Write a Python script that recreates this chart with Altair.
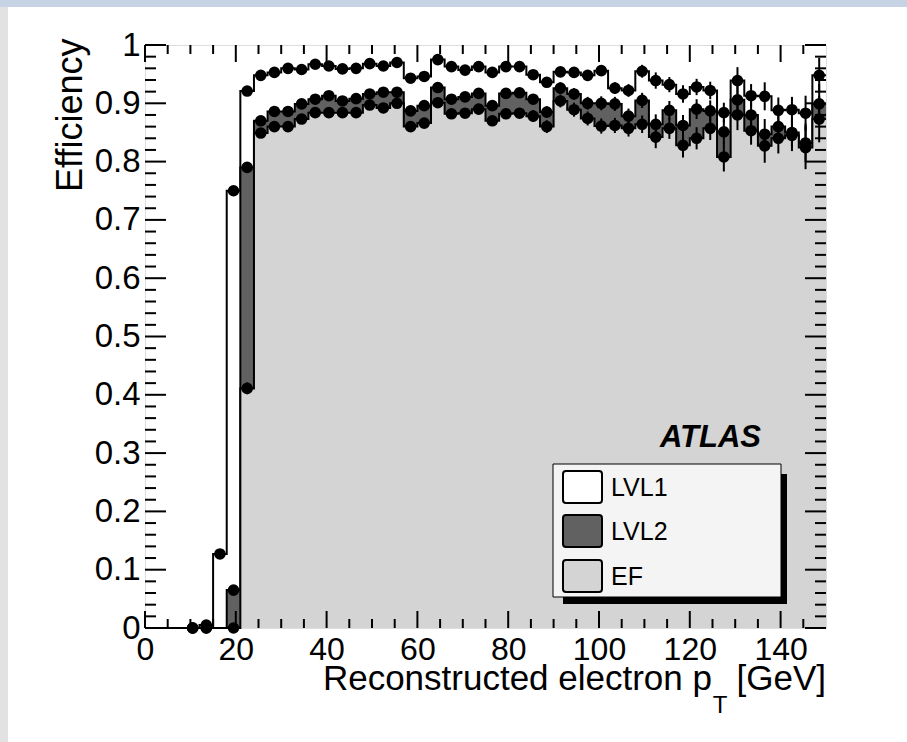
import altair as alt
import pandas as pd

# ---------------- data ----------------
edges = [0, 3, 6, 9, 12, 15, 18, 21, 24, 27, 30, 33, 36, 39, 42, 45, 48, 51, 54, 57,
         60, 63, 66, 69, 72, 75, 78, 81, 84, 87, 90, 93, 96, 99, 102, 105, 108, 111,
         114, 117, 120, 123, 126, 129, 132, 135, 138, 141, 144, 147, 150]
centers = [1.5, 4.5, 7.5, 10.5, 13.5, 16.5, 19.5, 22.5, 25.5, 28.5, 31.5, 34.5, 37.5,
           40.5, 43.5, 46.5, 49.5, 52.5, 55.5, 58.5, 61.5, 64.5, 67.5, 70.5, 73.5, 76.5,
           79.5, 82.5, 85.5, 88.5, 91.5, 94.5, 97.5, 100.5, 103.5, 106.5, 109.5, 112.5,
           115.5, 118.5, 121.5, 124.5, 127.5, 130.5, 133.5, 136.5, 139.5, 142.5, 145.5, 148.5]

lvl1 = [None, None, None, 0.0, 0.005, 0.127, 0.750, 0.921, 0.948, 0.953, 0.960, 0.958,
        0.967, 0.964, 0.959, 0.960, 0.968, 0.964, 0.970, 0.943, 0.946, 0.975, 0.963,
        0.957, 0.963, 0.953, 0.963, 0.963, 0.949, 0.936, 0.954, 0.953, 0.948, 0.956,
        0.926, 0.922, 0.955, 0.939, 0.932, 0.916, 0.928, 0.922, 0.884, 0.939, 0.913,
        0.912, 0.888, 0.889, 0.883, 0.948]
lvl2 = [None, None, None, 0.0, 0.0, None, 0.065, 0.790, 0.870, 0.886, 0.886, 0.899,
        0.907, 0.913, 0.904, 0.908, 0.916, 0.919, 0.919, 0.887, 0.896, 0.927, 0.907,
        0.911, 0.917, 0.896, 0.917, 0.918, 0.907, 0.885, 0.926, 0.916, 0.900, 0.900,
        0.899, 0.878, 0.905, 0.864, 0.888, 0.862, 0.890, 0.887, 0.851, 0.906, 0.880,
        0.847, 0.860, 0.850, 0.832, 0.899]
ef = [None, None, None, 0.0, 0.0, None, 0.0, 0.411, 0.849, 0.860, 0.860, 0.873,
      0.884, 0.884, 0.884, 0.884, 0.897, 0.892, 0.900, 0.860, 0.866, 0.901, 0.882,
      0.883, 0.890, 0.870, 0.882, 0.883, 0.878, 0.860, 0.904, 0.889, 0.874, 0.861,
      0.862, 0.857, 0.864, 0.842, 0.857, 0.828, 0.840, 0.857, 0.808, 0.880, 0.853,
      0.827, 0.840, 0.845, 0.824, 0.873]

err1 = [0, 0, 0, 0.002, 0.004, 0.008, 0.008, 0.006, 0.004, 0.004, 0.004, 0.004,
        0.004, 0.004, 0.004, 0.004, 0.004, 0.004, 0.004, 0.005, 0.005, 0.005, 0.005,
        0.005, 0.006, 0.006, 0.006, 0.006, 0.007, 0.007, 0.008, 0.008, 0.009, 0.009,
        0.010, 0.011, 0.011, 0.014, 0.013, 0.015, 0.014, 0.015, 0.017, 0.023, 0.020,
        0.024, 0.022, 0.022, 0.030, 0.030]
err2 = [0, 0, 0, 0.002, 0.002, 0, 0.008, 0.009, 0.005, 0.005, 0.005, 0.005,
        0.005, 0.005, 0.005, 0.005, 0.005, 0.005, 0.005, 0.007, 0.007, 0.007, 0.007,
        0.007, 0.008, 0.008, 0.008, 0.008, 0.009, 0.010, 0.010, 0.010, 0.011, 0.012,
        0.012, 0.013, 0.013, 0.017, 0.016, 0.018, 0.017, 0.018, 0.021, 0.024, 0.022,
        0.026, 0.024, 0.025, 0.033, 0.034]
err3 = [0, 0, 0, 0.002, 0.002, 0, 0.002, 0.010, 0.005, 0.005, 0.005, 0.005,
        0.005, 0.005, 0.005, 0.005, 0.005, 0.005, 0.005, 0.008, 0.008, 0.008, 0.008,
        0.008, 0.009, 0.009, 0.009, 0.009, 0.010, 0.011, 0.011, 0.012, 0.012, 0.013,
        0.013, 0.014, 0.015, 0.019, 0.018, 0.021, 0.019, 0.020, 0.025, 0.026, 0.024,
        0.029, 0.026, 0.027, 0.037, 0.040]

series_names = ["LVL1", "LVL2", "EF"]
series_fill = ["#ffffff", "#616161", "#d4d4d4"]

x_labels = [0, 20, 40, 60, 80, 100, 120, 140]
x_minor = [5, 10, 15, 25, 30, 35, 45, 50, 55, 65, 70, 75, 85, 90, 95, 105, 110, 115,
           125, 130, 135, 145]
y_labels = [0, 0.1, 0.2, 0.3, 0.4, 0.5, 0.6, 0.7, 0.8, 0.9, 1.0]
y_minor = [0.02, 0.04, 0.06, 0.08, 0.12, 0.14, 0.16, 0.18, 0.22, 0.24, 0.26, 0.28,
           0.32, 0.34, 0.36, 0.38, 0.42, 0.44, 0.46, 0.48, 0.52, 0.54, 0.56, 0.58,
           0.62, 0.64, 0.66, 0.68, 0.72, 0.74, 0.76, 0.78, 0.82, 0.84, 0.86, 0.88,
           0.92, 0.94, 0.96, 0.98]

# ---------------- layout ----------------
W, H = 681, 583
FONT = "Liberation Sans"

xsc = alt.Scale(domain=[0, 150], nice=False, zero=False)
ysc = alt.Scale(domain=[0, 1], nice=False, zero=False)
xaxis = alt.Axis(values=x_labels, title=None, ticks=False, domain=False, grid=False,
                 labelFontSize=32, labelPadding=6, labelColor="black", labelFont=FONT,
                 labelFlush=False, labelOverlap=False, labelBound=False, format="d")
yaxis = alt.Axis(values=y_labels, title="Efficiency", ticks=False, domain=False,
                 grid=False, labelFontSize=33, labelPadding=5, labelColor="black",
                 labelFont=FONT, labelFlush=False, labelOverlap=False, labelBound=False,
                 format="~g", titleFont=FONT, titleFontSize=36, titleFontWeight="normal",
                 titleColor="black", titleAngle=270, titleX=-64, titleY=-7,
                 titleAlign="right", titleBaseline="alphabetic")


def X(field):
    return alt.X(field, type="quantitative", scale=xsc, axis=xaxis)


def Y(field):
    return alt.Y(field, type="quantitative", scale=ysc, axis=yaxis)


layers = []
point_frames = []
for name, vals, errs, fill in zip(series_names, [lvl1, lvl2, ef], [err1, err2, err3],
                                  series_fill):
    area_vals = [0.0 if v is None else v for v in vals]
    step_df = pd.DataFrame({"edge": edges, "val": area_vals + [area_vals[-1]]})
    layers.append(alt.Chart(step_df).mark_area(interpolate="step-after", fill=fill,
                                               opacity=1)
                  .encode(x=X("edge"), y=Y("val")))
    layers.append(alt.Chart(step_df).mark_line(interpolate="step-after", color="black",
                                               strokeWidth=2)
                  .encode(x=X("edge"), y=Y("val")))
    rows = [(c, v, e) for c, v, e in zip(centers, vals, errs) if v is not None]
    pdf = pd.DataFrame(rows, columns=["center", "val", "err"])
    pdf["lo"] = pdf["val"] - pdf["err"]
    pdf["hi"] = pdf["val"] + pdf["err"]
    point_frames.append(pdf)

for pdf in point_frames:
    layers.append(alt.Chart(pdf).mark_rule(color="black", strokeWidth=2)
                  .encode(x=X("center"), y=Y("lo"), y2="hi"))
for pdf in point_frames:
    layers.append(alt.Chart(pdf).mark_circle(size=135, color="black", opacity=1)
                  .encode(x=X("center"), y=Y("val")))

# ---------------- ROOT style inner ticks on all four sides ----------------
xmaj = pd.DataFrame({"t": x_labels})
xmin = pd.DataFrame({"t": x_minor})
ymaj = pd.DataFrame({"t": y_labels})
ymin = pd.DataFrame({"t": y_minor})
for df, ln in [(xmaj, 17), (xmin, 9)]:
    layers.append(alt.Chart(df).mark_rule(color="black", strokeWidth=2)
                  .encode(x=X("t"), y=alt.value(H), y2=alt.value(H - ln)))
    layers.append(alt.Chart(df).mark_rule(color="black", strokeWidth=2)
                  .encode(x=X("t"), y=alt.value(0), y2=alt.value(ln)))
for df, ln in [(ymaj, 21), (ymin, 11)]:
    layers.append(alt.Chart(df).mark_rule(color="black", strokeWidth=2)
                  .encode(y=Y("t"), x=alt.value(0), x2=alt.value(ln)))
    layers.append(alt.Chart(df).mark_rule(color="black", strokeWidth=2)
                  .encode(y=Y("t"), x=alt.value(W), x2=alt.value(W - ln)))

one = alt.Chart(pd.DataFrame({"k": [0]}))

# ---------------- x axis title with subscript ----------------
layers.append(one.mark_text(text="Reconstructed electron p", font=FONT, fontSize=35,
                            align="right", baseline="alphabetic", color="black")
              .encode(x=alt.value(567), y=alt.value(645)))
layers.append(one.mark_text(text="T", font=FONT, fontSize=24, align="center",
                            baseline="alphabetic", color="black")
              .encode(x=alt.value(575), y=alt.value(668)))
layers.append(one.mark_text(text="[GeV]", font=FONT, fontSize=35, align="right",
                            baseline="alphabetic", color="black")
              .encode(x=alt.value(W), y=alt.value(645)))

# ---------------- ATLAS label ----------------
layers.append(one.mark_text(text="ATLAS", font=FONT, fontSize=31, fontWeight="bold",
                            fontStyle="italic", align="right", baseline="alphabetic",
                            color="black")
              .encode(x=alt.value(616), y=alt.value(402)))

# ---------------- legend box with shadow ----------------
layers.append(one.mark_rect(color="black")
              .encode(x=alt.value(418), x2=alt.value(642), y=alt.value(429),
                      y2=alt.value(559)))
layers.append(one.mark_rect(fill="#f4f4f4", stroke="black", strokeWidth=1)
              .encode(x=alt.value(408), x2=alt.value(636), y=alt.value(419),
                      y2=alt.value(552)))
swatch_top = [426, 470, 515]
for name, fill, top in zip(series_names, series_fill, swatch_top):
    layers.append(one.mark_rect(fill=fill, stroke="black", strokeWidth=2,
                                cornerRadius=3)
                  .encode(x=alt.value(418), x2=alt.value(457), y=alt.value(top),
                          y2=alt.value(top + 32)))
    layers.append(one.mark_text(text=name, font=FONT, fontSize=25, align="left",
                                baseline="middle", color="black")
                  .encode(x=alt.value(466), y=alt.value(top + 17)))

# ---------------- screenshot edges ----------------
layers.append(one.mark_rect(color="#c6d3e5")
              .encode(x=alt.value(-145), x2=alt.value(762), y=alt.value(-45),
                      y2=alt.value(-38)))
layers.append(one.mark_rect(color="#e2e2e2")
              .encode(x=alt.value(-145), x2=alt.value(-137), y=alt.value(-38),
                      y2=alt.value(697)))

chart = alt.layer(*layers).properties(
    width=W, height=H,
    padding={"left": 145, "top": 45, "right": 81, "bottom": 114},
    autosize=alt.AutoSizeParams(type="none"),
    background="white",
).configure_view(stroke="black", strokeWidth=2).configure(font=FONT)

chart.save("out.html", embed_options={"renderer": "svg", "actions": False})
